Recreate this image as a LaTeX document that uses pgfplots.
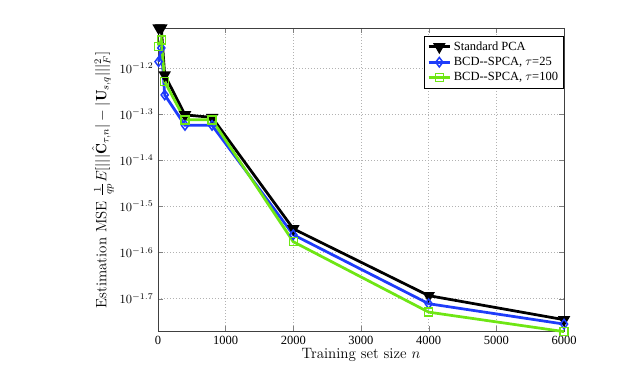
\documentclass[border=0pt]{standalone}
\usepackage{fontspec}
\usepackage{amsmath,amssymb}
\usepackage{pgfplots}
\pgfplotsset{compat=1.18}
\newfontfamily\tnr{Liberation Serif}
\definecolor{mblue}{RGB}{30,60,250}
\definecolor{mgreen}{RGB}{110,230,20}

\begin{document}
\begin{tikzpicture}
\begin{axis}[name=ax,
  scale only axis, width=325pt, height=243pt,
  ymode=log,
  xmin=0, xmax=6000,
  ymin=0.01692, ymax=0.07702,
  xtick={0,1000,2000,3000,4000,5000,6000},
  ytick={0.0630957,0.0501187,0.0398107,0.0316228,0.0251189,0.0199526},
  yticklabels={{$10^{-1.2}$},{$10^{-1.3}$},{$10^{-1.4}$},{$10^{-1.5}$},{$10^{-1.6}$},{$10^{-1.7}$}},
  minor ytick={}, yminorticks=false,
  scaled x ticks=false,
  x tick label style={font=\tnr, /pgf/number format/1000 sep={}},
  y tick label style={font=\normalsize},
  /pgf/number format/assume math mode=true,
  tick align=inside, tick pos=both,
  grid=major, grid style={black!30, dotted, line width=0.6pt},
  axis line style={black!75, line width=0.6pt},
  xlabel={Training set size $n$},
  ylabel={Estimation MSE $\frac{1}{qp}E[|||\hat{\mathbf{C}}_{\tau,n}|-|\mathbf{U}_{s,q}|||_{F}^{2}]$},
  xlabel style={font=\large, yshift=4pt},
  ylabel style={font=\large, yshift=-2pt},
  clip=false,
  legend cell align=left,
  legend image post style={sharp plot},
  legend style={font=\tnr, at={(1,0.975)}, anchor=north east,
    draw=black, line width=0.6pt, inner sep=2.5pt, row sep=0pt},
  every axis plot/.append style={line width=2.2pt, mark size=3.6pt},
]
\addplot[black, mark=triangle*, mark options={rotate=180, solid, fill=black}]
  coordinates {(10,0.07702)(50,0.07702)(100,0.06093)(400,0.04992)(800,0.04929)(2000,0.02827)(4000,0.02025)(6000,0.01796)};
\addlegendentry{Standard PCA}
\addplot[mblue, mark=diamond, mark options={solid, line width=1.2pt, mark size=3.8pt}]
  coordinates {(10,0.06510)(50,0.06972)(100,0.05515)(400,0.04737)(800,0.04737)(2000,0.02744)(4000,0.01945)(6000,0.01757)};
\addlegendentry{BCD--SPCA, $\tau$=25}
\addplot[mgreen, mark=square, mark options={solid, line width=1.2pt, mark size=3.2pt}]
  coordinates {(10,0.07016)(50,0.07255)(100,0.05893)(400,0.04869)(800,0.04869)(2000,0.02650)(4000,0.01865)(6000,0.01692)};
\addlegendentry{BCD--SPCA, $\tau$=100}
\end{axis}
\path ([xshift=-126.4pt,yshift=-33.6pt]ax.south west) rectangle ([xshift=47.2pt,yshift=22.4pt]ax.north east);
\end{tikzpicture}
\end{document}
